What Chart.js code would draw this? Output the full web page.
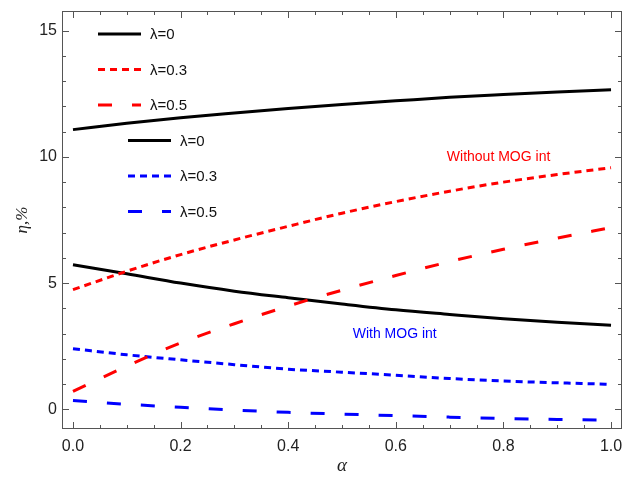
<!DOCTYPE html>
<html>
<head>
<meta charset="utf-8">
<script src="https://cdn.jsdelivr.net/npm/chart.js@4"></script>
<style>
  html, body { margin: 0; padding: 0; background: #fff; }
  #wrap { width: 623px; height: 484px; }
</style>
</head>
<body>
<div id="wrap"><canvas id="grafico" width="623" height="484"></canvas></div>
<script>
// alpha values and efficiency eta (%) for each lambda
const alphas = [0, 0.1, 0.2, 0.3, 0.4, 0.5, 0.6, 0.7, 0.8, 0.9, 1.0];

// without MOG interaction
const etaSinMog0  = [11.08, 11.33, 11.55, 11.74, 11.92, 12.08, 12.22, 12.36, 12.47, 12.57, 12.66];
const etaSinMog03 = [4.74, 5.47, 6.13, 6.71, 7.25, 7.77, 8.23, 8.64, 9.00, 9.30, 9.57];
const etaSinMog05 = [0.71, 1.71, 2.63, 3.39, 4.09, 4.72, 5.30, 5.85, 6.34, 6.78, 7.20];

// with MOG interaction
const etaConMog0  = [5.73, 5.37, 5.00, 4.68, 4.42, 4.17, 3.94, 3.76, 3.59, 3.45, 3.33];
const etaConMog03 = [2.40, 2.16, 1.96, 1.77, 1.59, 1.47, 1.35, 1.22, 1.12, 1.05, 0.99];
const etaConMog05 = [0.35, 0.20, 0.08, -0.03, -0.12, -0.19, -0.25, -0.31, -0.36, -0.40, -0.43];

const xTicks = [0, 0.2, 0.4, 0.6, 0.8, 1.0];
const yTicks = [0, 5, 10, 15];

const puntos = serie => serie.map((v, i) => ({ x: alphas[i], y: v }));

function serie(label, datos, color, dash, grupo) {
    return {
        label: label,
        data: puntos(datos),
        borderColor: color,
        borderWidth: 3,
        borderDash: dash,
        pointRadius: 0,
        fill: false,
        cubicInterpolationMode: 'monotone',
        grupo: grupo
    };
}

const PUNTEADO = [7, 5];
const RAYADO = [14, 20];

// no extra room for overhanging tick labels
function sinRelleno(s) {
    s.paddingLeft = 0;
    s.paddingRight = 0;
    s.paddingTop = 0;
    s.paddingBottom = 0;
}

// frame, inward ticks, legends and labels
const marcoPlugin = {
    id: 'marco',
    afterDatasetsDraw(chart) {
        const ctx = chart.ctx;
        const a = chart.chartArea;
        const sx = chart.scales.x, sy = chart.scales.y;
        ctx.save();
        ctx.strokeStyle = '#555';
        ctx.lineWidth = 1;
        ctx.strokeRect(a.left + 0.5, a.top + 0.5, a.right - a.left - 1, a.bottom - a.top - 1);

        ctx.beginPath();
        for (let k = 0; k <= 20; k++) {
            const v = k * 0.05;
            const px = Math.round(sx.getPixelForValue(v)) + 0.5;
            const len = (k % 4 === 0) ? 7 : 4;
            ctx.moveTo(px, a.bottom); ctx.lineTo(px, a.bottom - len);
            ctx.moveTo(px, a.top); ctx.lineTo(px, a.top + len);
        }
        for (let v = 0; v <= 15; v++) {
            const py = Math.round(sy.getPixelForValue(v)) + 0.5;
            const len = (v % 5 === 0) ? 7 : 4;
            ctx.moveTo(a.left, py); ctx.lineTo(a.left + len, py);
            ctx.moveTo(a.right, py); ctx.lineTo(a.right - len, py);
        }
        ctx.stroke();

        // two legend blocks
        const bloques = { sin: { x: 98, y: 34 }, con: { x: 128, y: 140.5 } };
        const cuenta = { sin: 0, con: 0 };
        ctx.font = '15px "Liberation Sans", Arial, sans-serif';
        ctx.textBaseline = 'middle';
        ctx.textAlign = 'left';
        chart.data.datasets.forEach(ds => {
            const b = bloques[ds.grupo];
            const y = b.y + cuenta[ds.grupo] * 35.5;
            cuenta[ds.grupo]++;
            ctx.strokeStyle = ds.borderColor;
            ctx.lineWidth = ds.borderWidth;
            ctx.setLineDash(ds.borderDash);
            ctx.beginPath();
            ctx.moveTo(b.x, y);
            ctx.lineTo(b.x + 43, y);
            ctx.stroke();
            ctx.setLineDash([]);
            ctx.fillStyle = '#111';
            ctx.fillText(ds.label, b.x + 52, y + 1);
        });

        ctx.font = '14px "Liberation Sans", Arial, sans-serif';
        ctx.textAlign = 'center';
        ctx.fillStyle = '#ff0000';
        ctx.fillText('Without MOG int', sx.getPixelForValue(0.791), sy.getPixelForValue(9.98));
        ctx.fillStyle = '#0000ff';
        ctx.fillText('With MOG int', sx.getPixelForValue(0.598), sy.getPixelForValue(2.96));
        ctx.restore();
    }
};

const ctx = document.getElementById('grafico').getContext('2d');
new Chart(ctx, {
    type: 'line',
    data: {
        datasets: [
            serie('λ=0',   etaSinMog0,  '#000000', [],        'sin'),
            serie('λ=0.3', etaSinMog03, '#ff0000', PUNTEADO,  'sin'),
            serie('λ=0.5', etaSinMog05, '#ff0000', RAYADO,    'sin'),
            serie('λ=0',   etaConMog0,  '#000000', [],        'con'),
            serie('λ=0.3', etaConMog03, '#0000ff', PUNTEADO,  'con'),
            serie('λ=0.5', etaConMog05, '#0000ff', RAYADO,    'con')
        ]
    },
    options: {
        responsive: false,
        animation: false,
        layout: { padding: { top: 11, right: 1, left: 0, bottom: 0 } },
        plugins: { legend: { display: false }, tooltip: { enabled: false } },
        scales: {
            x: {
                type: 'linear',
                min: -0.0204,
                max: 1.0204,
                afterBuildTicks: s => { s.ticks = xTicks.map(v => ({ value: v })); },
                afterFit: s => { s.height = 55; sinRelleno(s); },
                grid: { display: false, drawTicks: false },
                border: { display: false },
                ticks: {
                    padding: 8,
                    color: '#222',
                    font: { family: '"Liberation Sans", Arial, sans-serif', size: 16 },
                    callback: v => v.toFixed(1)
                },
                title: {
                    display: true,
                    text: 'α',
                    color: '#222',
                    padding: { top: 0, bottom: 7 },
                    font: { family: '"Liberation Serif", "DejaVu Serif", serif', size: 19, style: 'italic' }
                }
            },
            y: {
                min: -0.78,
                max: 15.78,
                afterBuildTicks: s => { s.ticks = yTicks.map(v => ({ value: v })); },
                afterFit: s => { s.width = 62; sinRelleno(s); },
                grid: { display: false, drawTicks: false },
                border: { display: false },
                ticks: {
                    padding: 5,
                    color: '#222',
                    font: { family: '"Liberation Sans", Arial, sans-serif', size: 16 }
                },
                title: {
                    display: true,
                    text: 'η,%',
                    color: '#222',
                    padding: { top: 12, bottom: 0 },
                    font: { family: '"Liberation Serif", "DejaVu Serif", serif', size: 17, style: 'italic' }
                }
            }
        }
    },
    plugins: [marcoPlugin]
});
</script>
</body>
</html>
